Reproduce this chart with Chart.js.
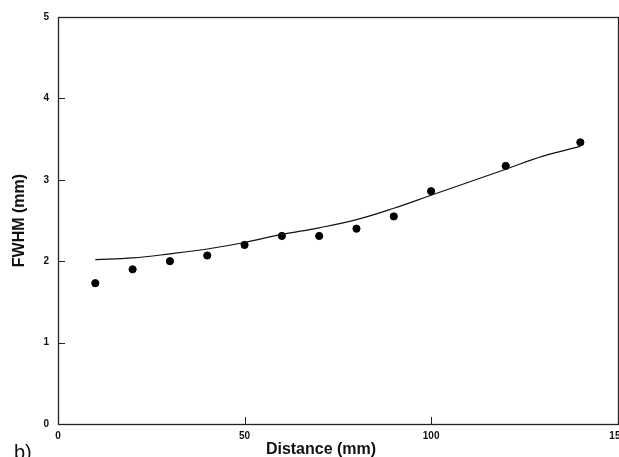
<!DOCTYPE html>
<html>
<head>
<meta charset="utf-8">
<script src="https://cdn.jsdelivr.net/npm/chart.js@4"></script>
<style>
html,body{margin:0;padding:0;background:#fff;overflow:hidden;width:619px;height:457px;}
#wrap{width:632px;height:457px;position:relative;}
#c{display:block;}
</style>
</head>
<body>
<div id="wrap"><canvas id="c" width="632" height="457" style="width:632px;height:457px;"></canvas></div>
<script>
// Measured points
const distances = [10, 20, 30, 40, 50, 60, 70, 80, 90, 100, 120, 140];
const fwhm = [1.73, 1.90, 2.00, 2.07, 2.20, 2.31, 2.31, 2.40, 2.55, 2.86, 3.17, 3.46];
// Fitted curve
const fitX = [10, 20, 30, 40, 50, 60, 70, 80, 90, 100, 110, 120, 130, 140];
const fitY = [2.02, 2.04, 2.09, 2.15, 2.23, 2.33, 2.41, 2.51, 2.65, 2.81, 2.97, 3.13, 3.29, 3.41];
// Tick labels
const xTickValues = [0, 50, 100, 150];
const xTickLabels = ['0', '50', '100', '150'];
const yTickValues = [0, 1, 2, 3, 4, 5];
const yTickLabels = ['0', '1', '2', '3', '4', '5'];
const xTitle = 'Distance (mm)';
const yTitle = 'FWHM (mm)';
const panelLabel = 'b)';

const FONT = '"Liberation Sans", Arial, Helvetica, sans-serif';

const frame = {
  id: 'frame',
  afterDraw(chart) {
    const {ctx, chartArea: a, scales} = chart;
    ctx.save();
    ctx.strokeStyle = '#222';
    ctx.lineWidth = 1.3;
    ctx.strokeRect(Math.round(a.left) + 0.5, Math.round(a.top) + 0.5,
                   Math.round(a.right - a.left), Math.round(a.bottom - a.top));
    // inward ticks
    ctx.lineWidth = 1;
    ctx.beginPath();
    scales.y.ticks.forEach(t => {
      if (t.value <= 0 || t.value >= 5) return;
      const y = Math.round(scales.y.getPixelForValue(t.value)) + 0.5;
      ctx.moveTo(a.left, y); ctx.lineTo(a.left + 7, y);
    });
    scales.x.ticks.forEach(t => {
      if (t.value <= 0 || t.value >= 150) return;
      const x = Math.round(scales.x.getPixelForValue(t.value)) + 0.5;
      ctx.moveTo(x, a.bottom); ctx.lineTo(x, a.bottom - 7);
    });
    ctx.stroke();
    ctx.fillStyle = '#111';
    // x-axis title (placed slightly left of centre as in the original)
    ctx.font = 'bold 16px ' + FONT;
    ctx.textAlign = 'center';
    ctx.textBaseline = 'middle';
    ctx.fillText(xTitle, 321, 450);
    // panel label
    ctx.font = '20px ' + FONT;
    ctx.textBaseline = 'alphabetic';
    ctx.textAlign = 'left';
    ctx.fillText(panelLabel, 14, 459);
    ctx.restore();
  }
};

new Chart(document.getElementById('c'), {
  type: 'scatter',
  data: {
    datasets: [
      {
        label: 'fit',
        type: 'line',
        data: fitX.map((x, i) => ({x, y: fitY[i]})),
        borderColor: '#111',
        borderWidth: 1.2,
        pointRadius: 0,
        fill: false,
        tension: 0.4
      },
      {
        label: 'measured',
        data: distances.map((x, i) => ({x, y: fwhm[i]})),
        backgroundColor: '#000',
        borderColor: '#000',
        pointRadius: 3.6,
        pointHoverRadius: 3.6
      }
    ]
  },
  options: {
    responsive: false,
    animation: false,
    events: [],
    layout: {padding: {top: 17, right: 6, left: 0, bottom: 0}},
    plugins: {legend: {display: false}, tooltip: {enabled: false}},
    scales: {
      x: {
        type: 'linear', min: 0, max: 150,
        afterBuildTicks: s => { s.ticks = xTickValues.map(v => ({value: v})); },
        afterFit: s => { s.height = 33; },
        grid: {display: false, drawTicks: false},
        border: {display: false},
        ticks: {
          padding: 6, color: '#111',
          font: {family: FONT, size: 10, weight: 'bold'},
          callback: (v) => { const i = xTickValues.indexOf(v); return i >= 0 ? xTickLabels[i] : ''; },
          maxRotation: 0, autoSkip: false
        },
        title: {display: false}
      },
      y: {
        type: 'linear', min: 0, max: 5,
        afterBuildTicks: s => { s.ticks = yTickValues.map(v => ({value: v})); },
        afterFit: s => { s.width = 58; s.paddingTop = 0; s.paddingBottom = 0; },
        grid: {display: false, drawTicks: false},
        border: {display: false},
        ticks: {
          padding: 9, color: '#111',
          font: {family: FONT, size: 10, weight: 'bold'},
          callback: (v) => { const i = yTickValues.indexOf(v); return i >= 0 ? yTickLabels[i] : ''; },
          autoSkip: false
        },
        title: {display: true, text: yTitle, color: '#111',
          font: {family: FONT, size: 16, weight: 'bold', lineHeight: 0.9}, padding: {top: 12, bottom: 0}}
      }
    }
  },
  plugins: [frame]
});
</script>
</body>
</html>
